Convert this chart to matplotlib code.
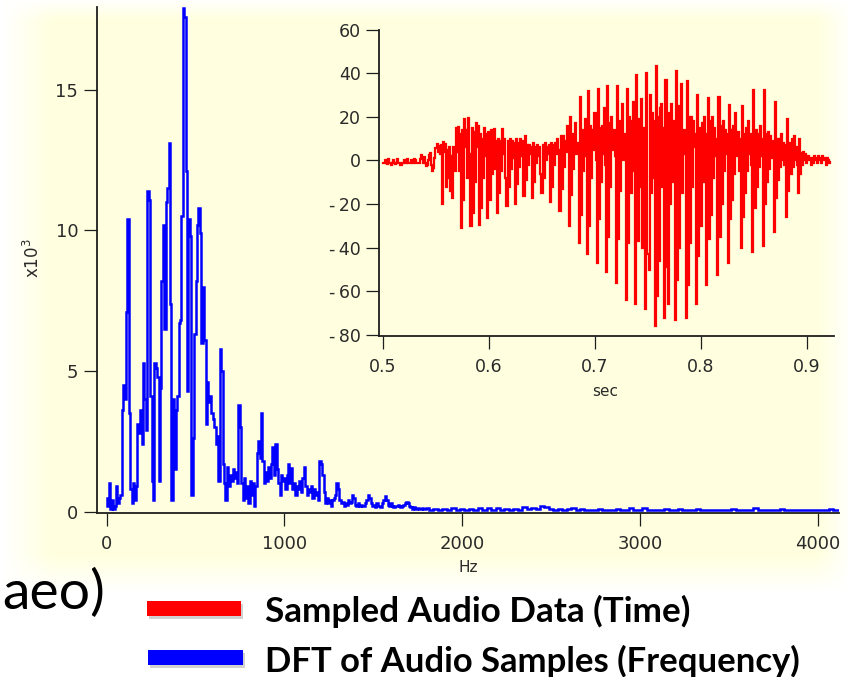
import numpy as np
import matplotlib
matplotlib.use("Agg")
import matplotlib.pyplot as plt
from matplotlib.patches import Rectangle

# ---------------- data ----------------
# DFT magnitude (x10^3), 8 Hz bins from 0 Hz
dft_low_step_hz = 8
dft_low_kamp = [
    0.5, 0.2, 1.0, 0.1, 0.4, 0.1, 0.2, 0.9, 0.3, 0.5,      # 0-72
    0.6, 3.6, 4.5, 4.0, 7.1, 10.4, 3.5, 0.8, 0.3, 1.0,     # 80-152
    0.4, 0.9, 3.1, 2.8, 3.6, 2.4, 5.3, 4.0, 2.9, 11.4,     # 160-232
    11.1, 4.1, 1.1, 0.4, 5.3, 5.1, 4.8, 1.1, 4.4, 8.2,     # 240-312
    10.2, 6.5, 11.0, 11.5, 13.1, 7.4, 0.4, 4.0, 1.5, 3.6,  # 320-392
    4.1, 6.7, 6.8, 10.5, 17.9, 17.6, 12.1, 4.3, 10.4, 9.8, # 400-472
    0.6, 2.6, 6.3, 8.2, 10.2, 10.8, 9.9, 6.0, 8.0, 6.1,    # 480-552
    3.1, 4.6, 3.9, 4.1, 3.5, 3.3, 3.0, 2.4, 2.7, 1.1,      # 560-632
    5.8, 5.0, 1.7, 1.0, 0.4, 1.6, 0.9, 1.3, 1.1, 1.5,      # 640-712
    1.2, 1.4, 1.0, 3.8, 3.0, 1.0, 0.4, 1.2, 0.5, 0.9,      # 720-792
    0.3, 1.1, 0.6, 1.0, 0.2, 0.9, 2.1, 2.5, 1.9, 3.5,      # 800-872
    1.8, 1.0, 1.4, 1.1, 1.6, 1.2, 1.7, 2.3, 1.3, 2.4,      # 880-952
    1.5, 1.0, 0.6, 1.3, 1.1, 1.2, 0.8, 1.3, 1.7, 1.0,      # 960-1032
    1.55, 0.8, 1.0, 0.6, 0.9, 0.8, 1.1, 0.7, 1.2, 1.6,     # 1040-1112
    0.9, 0.6, 0.8, 0.7, 0.9, 0.5, 0.8, 0.6, 0.7, 0.4,      # 1120-1192
    1.8, 1.7, 1.3, 0.7, 0.3, 0.5, 0.3, 0.4, 0.2, 0.4,      # 1200-1272
    0.5, 0.6, 1.0, 0.8, 0.4, 0.3, 0.35, 0.2, 0.3, 0.25,    # 1280-1352
    0.4, 0.3, 0.35, 0.6, 0.5, 0.25, 0.2, 0.3, 0.2, 0.25,   # 1360-1432
    0.2, 0.2, 0.3, 0.4, 0.6, 0.5, 0.3, 0.2, 0.25, 0.15,    # 1440-1512
    0.3, 0.2, 0.2, 0.15, 0.3, 0.4, 0.55, 0.4, 0.25, 0.2,   # 1520-1592
    0.3, 0.2, 0.15, 0.2, 0.2, 0.25, 0.2, 0.15, 0.2, 0.25,  # 1600-1672
    0.3, 0.35, 0.3, 0.2, 0.15, 0.1, 0.15, 0.1, 0.1, 0.12,  # 1680-1752
    0.08, 0.1, 0.12, 0.08, 0.1,                            # 1760-1792
]
# DFT magnitude (x10^3), 25 Hz bins from 1800 Hz
dft_tail_start_hz = 1800
dft_tail_step_hz = 25
dft_tail_kamp = [
    0.12, 0.06, 0.09, 0.05, 0.10, 0.06, 0.12, 0.05, 0.09, 0.04,
    0.10, 0.05, 0.13, 0.06, 0.11, 0.05, 0.12, 0.06, 0.08, 0.04,
    0.10, 0.05, 0.15, 0.08, 0.14, 0.10, 0.20, 0.17, 0.10, 0.05,
    0.08, 0.04, 0.10, 0.13, 0.06, 0.08, 0.04, 0.07, 0.05, 0.08,
    0.04, 0.06, 0.05, 0.09, 0.04, 0.07, 0.12, 0.05, 0.06, 0.11,
    0.05, 0.07, 0.04, 0.06, 0.10, 0.05, 0.07, 0.09, 0.04, 0.06,
    0.05, 0.08, 0.04, 0.06, 0.05, 0.07, 0.04, 0.06, 0.05, 0.08,
    0.04, 0.06, 0.05, 0.07, 0.11, 0.05, 0.06, 0.04, 0.07, 0.05,
    0.09, 0.04, 0.06, 0.05, 0.07, 0.04, 0.06, 0.05, 0.07, 0.04,
    0.06, 0.08, 0.05, 0.06,
]

# Sampled audio, 1 ms steps from 0.500 s
wave_start_sec = 0.500
wave_step_sec = 0.001
wave_amp = [
    -1, -1, 0, -1, -1.5, 0.5, -1, -1, -2, -1,            # 0.500
    0, -1, -1.5, -1, 0.5, -1, -1, -2, -1, -1,             # 0.510
    0, -1, -1, 0.5, -1, -1, -1, 0, -1, -1,                # 0.520
    0.5, 0, -1, -1, -1, 0.5, 2.5, 1, -1, 1.5,             # 0.530
    -1, -2.5, -2, 0, 2.5, 3.5, -2, -5, -3.5, 1,           # 0.540
    5.5, 7.5, 4, 6.5, 3, 7, -20, 8.5, 4, 7.5,             # 0.550
    -12, 5, -8, 6, -14, 2, -17, 6, -5, 15,                # 0.560
    4, 15.5, -5, 12, -31, 14, -18, 19, 6, 14,             # 0.570
    -8, 19.5, 3, -30, 15, -24, 13, -10, 17, 6,            # 0.580
    16, -29.5, 12, -22, 10, -8, 15, 2, 12, -26.5,         # 0.590
    13, -18, 14, -6, 10, 14.5, -4, 9, -24, 10,            # 0.600
    -15, 9, -5, 14.5, 3, 10, -8, -21, 9, -12,             # 0.610
    10, -4, 9, 1, 8, -20, 10, -11, 8, -3,                 # 0.620
    10, 2, 9, -16.5, 11, -9, 7, -2, 7, 3,                 # 0.630
    6, -17, 8, -10, 6, -1, 7, 2, 6, -6,                   # 0.640
    -15, 7, -8, 8, 0, 6, 3, 7, -19, 8,                    # 0.650
    -12, 7, -2, 8, 3, 10, 5, -23, 11, -13,                # 0.660
    11, -3, 9, 4, 16, 6, -30, 20, -16, 12,                # 0.670
    -4, 11, 17, 3, 8, -38, 29, -25, 14, -5,               # 0.680
    12, 19, 2, -43, 32, -30, 16, -8, 14, 5,               # 0.690
    22, 0, -47, 33, -27, 15, -10, 16, 3, 24,              # 0.700
    -2, -51, 34, -35, 17, -12, 20, 5, 14, 2,              # 0.710
    -56, 34, -36, 18, -14, 16, 26, 0, 12, 4,              # 0.720
    -64, 33, -38, 20, -15, 18, 27, -5, -66, 39,           # 0.730
    -25, -37, 19, -12, 28, -40, 15, 2, -68, 40,           # 0.740
    -43, -50, 30, -15, 22, -8, 18, -76, 43.5, -62,        # 0.750
    20, -46, 24, 26, -12, 15, -72, 37, -49, -66,          # 0.760
    22, -20, 26, -10, 18, 5, -73, 41, -55, 25,            # 0.770
    -40, 22, 35, -15, 14, 3, -72, 36.5, -57, 20,          # 0.780
    -38, 20, -12, 18, 6, 12, -66, 30, -44, 15,            # 0.790
    -30, 17, -10, 20, 4, -57, 12, 28.5, -36, 18,          # 0.800
    -25, 20, -8, 15, 2, 10, -52.5, 29, -35, 16,           # 0.810
    -20, 18, -5, 14, 3, 12, -47, 25.5, -27, 14,           # 0.820
    -18, 16, -6, 22, 2, 13, -5, 10, -40, 25,              # 0.830
    -26, 12, -15, 15, -5, 18, 3, 12, -2, -42,             # 0.840
    32.5, -22, 14, -12, 12, -3, 16, 2, 10, -39,           # 0.850
    32.5, -20, 12, -10, 13, -4, 11, 1, 9, -33,            # 0.860
    27, -17, 10, -9, 10, -3, 12, 0, 8, -2,                # 0.870
    7, -26, 19, -14, 8, -6, 10, -3, 11, 0,                # 0.880
    6, -2, -15, 10, -6, 3.5, -2, 4, 0, 3,                 # 0.890
    -1, 2, 0, 1, -2, 1, -1, 2, 0, 1,                      # 0.900
    -1, 2, 0, 1, -1, 2, 0, 1, -2, 1,                      # 0.910
    0, -1, -0.5,                                          # 0.920
]

main_xticks = [0, 1000, 2000, 3000, 4000]
main_yticks = [0, 5, 10, 15]
inset_xticks = [0.5, 0.6, 0.7, 0.8, 0.9]
inset_yticks = [-80, -60, -40, -20, 0, 20, 40, 60]
legend_labels = ["Sampled Audio Data (Time)", "DFT of Audio Samples (Frequency)"]
legend_colors = ["#ff0000", "#0000ff"]
side_text = "aeo)"

# ---------------- figure ----------------
W, H = 848, 677
fig = plt.figure(figsize=(W / 100, H / 100), dpi=100)
fig.patch.set_facecolor("white")


def fx(px):
    return px / W


def fy(py):
    return 1 - py / H


# cream background with soft edges
bg = fig.add_axes([0, 0, 1, 1], zorder=-10)
yy, xx = np.mgrid[0:H, 0:W]
alpha = (np.clip((xx - 2) / 50.0, 0, 1) * np.clip((W + 4 - xx) / 35.0, 0, 1)
         * np.clip((yy + 2) / 22.0, 0, 1) * np.clip((592 - yy) / 38.0, 0, 1))
img = np.zeros((H, W, 4))
img[..., 0] = 1.0
img[..., 1] = 1.0
img[..., 2] = 0.875
img[..., 3] = alpha
bg.imshow(img, aspect="auto", extent=[0, 1, 0, 1], interpolation="bilinear")
bg.set_xlim(0, 1)
bg.set_ylim(0, 1)
bg.axis("off")

axis_col = "#1e1e1e"
lab_col = "#2a2a2a"


def style_axis(ax, size):
    ax.patch.set_alpha(0)
    for s in ("top", "right"):
        ax.spines[s].set_visible(False)
    for s in ("left", "bottom"):
        ax.spines[s].set_color(axis_col)
        ax.spines[s].set_linewidth(1.3)
    ax.tick_params(direction="out", length=9.3, width=0.9, colors=axis_col,
                   labelcolor=lab_col, labelsize=size)


# main spectrum axes
ax = fig.add_axes([fx(97.3), fy(512.7), fx(839.3) - fx(97.3), fy(7) - fy(512.7)])
style_axis(ax, 13)
freq = np.concatenate([dft_low_step_hz * np.arange(len(dft_low_kamp)),
                       dft_tail_start_hz + dft_tail_step_hz * np.arange(len(dft_tail_kamp))])
amp = np.concatenate([dft_low_kamp, dft_tail_kamp])
ax.plot(freq, amp, color="#0000ff", lw=1.8, drawstyle="steps-mid",
        solid_joinstyle="miter")
ax.set_xlim(-53, 4121)
ax.set_ylim(-0.04, 17.95)
ax.set_xticks(main_xticks)
ax.set_yticks(main_yticks)
ax.set_xticklabels([str(v) for v in main_xticks])
ax.set_yticklabels([str(v) for v in main_yticks])
ax.tick_params(axis="x", pad=6.5)
ax.tick_params(axis="y", pad=4.5)
fig.text(fx(468), fy(568), "Hz", ha="center", va="center", fontsize=11, color=lab_col)
fig.text(fx(33), fy(258), "x10$^3$", ha="center", va="center", rotation=90,
         fontsize=12, color=lab_col)

# inset waveform axes
ax2 = fig.add_axes([fx(379.3), fy(335.9), fx(834.2) - fx(379.3), fy(29.6) - fy(335.9)])
style_axis(ax2, 12.5)
t = wave_start_sec + wave_step_sec * np.arange(len(wave_amp))
ax2.plot(t, wave_amp, color="#ff0000", lw=1.6, drawstyle="steps-mid",
         solid_joinstyle="miter")
ax2.set_xlim(0.4965, 0.9257)
ax2.set_ylim(-80.4, 60)
ax2.set_xticks(inset_xticks)
ax2.set_yticks(inset_yticks)
ax2.set_xticklabels([f"{v:.1f}" for v in inset_xticks])
ax2.set_yticklabels([("-\u2009" + str(-v)) if v < 0 else str(v) for v in inset_yticks])
ax2.tick_params(axis="x", pad=6.5)
ax2.tick_params(axis="y", pad=4)
fig.text(fx(605), fy(392), "sec", ha="center", va="center", fontsize=11, color=lab_col)

# legend-like annotation below the chart
bars = [(147, 601, 94, 15), (148, 650, 95, 15)]
for (x0, y0, w, h), c in zip(bars, legend_colors):
    fig.patches.append(Rectangle((fx(x0 + 2), fy(y0 + h + 3)), w / W, h / H,
                                 transform=fig.transFigure, color="#9a9a9a",
                                 alpha=0.45, lw=0))
    fig.patches.append(Rectangle((fx(x0), fy(y0 + h)), w / W, h / H,
                                 transform=fig.transFigure, color=c, lw=0))

renderer = fig.canvas.get_renderer()
for label, yc, target_w in zip(legend_labels, [611, 661], [425, 535]):
    tx = fig.text(fx(265), fy(yc), label, ha="left", va="center",
                  fontfamily="Lato", fontweight="bold", fontsize=20, color="black")
    wpx = tx.get_window_extent(renderer).width
    tx.set_fontsize(20 * target_w / wpx)

st = fig.text(fx(2), fy(593), side_text, ha="left", va="center",
              fontfamily="Lato", fontsize=30, color="black")
wpx = st.get_window_extent(renderer).width
st.set_fontsize(30 * 103 / wpx)

fig.savefig("out.png", dpi=100)
